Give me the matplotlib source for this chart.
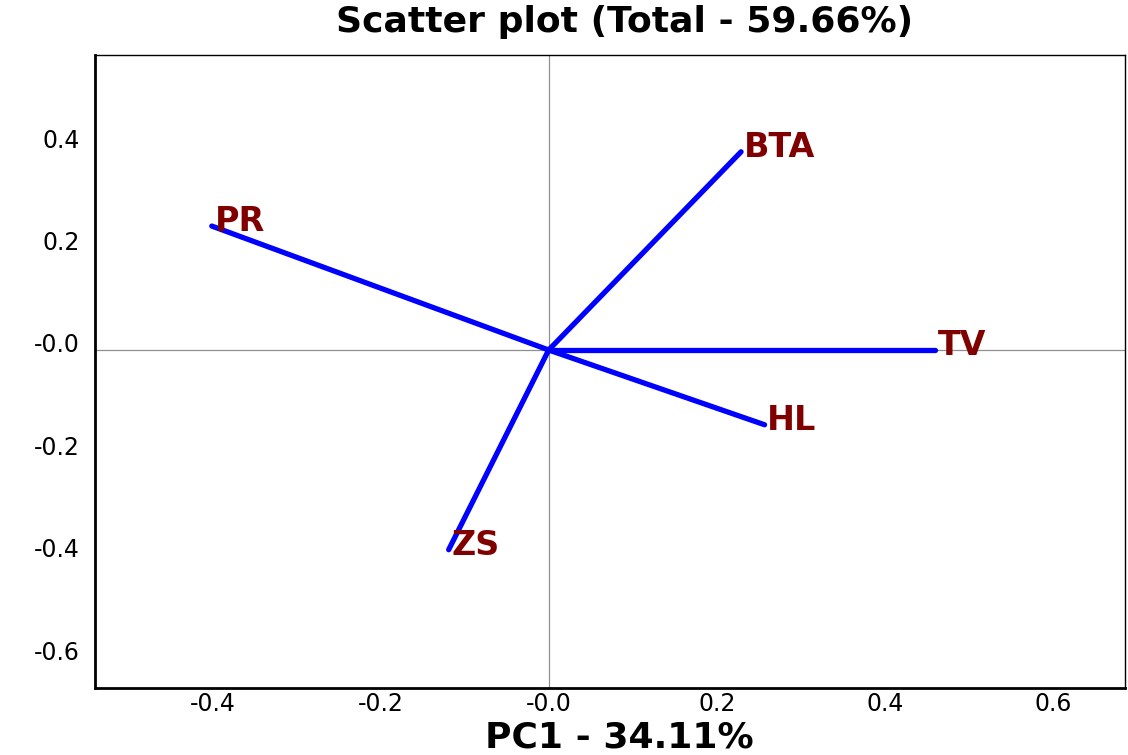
import numpy as np
import matplotlib
matplotlib.use("Agg")
import matplotlib.pyplot as plt
from matplotlib.transforms import ScaledTranslation

# loadings
variables = ["PR", "BTA", "TV", "HL", "ZS"]
pc1 = [-0.401, 0.229, 0.460, 0.257, -0.119]
pc2 = [0.242, 0.387, 0.000, -0.146, -0.390]

xticks = [-0.4, -0.2, 0.0, 0.2, 0.4, 0.6]
xtick_labels = ["-0.4", "-0.2", "-0.0", "0.2", "0.4", "0.6"]
yticks = [0.4, 0.2, 0.0, -0.2, -0.4, -0.6]
ytick_labels = ["0.4", "0.2", "-0.0", "-0.2", "-0.4", "-0.6"]

plt.rcParams["font.family"] = ["DejaVu Sans"]

fig = plt.figure(figsize=(11.28, 7.55), dpi=100)
ax = fig.add_axes([95 / 1128, 1 - 688 / 755, (1125 - 95) / 1128, (688 - 55) / 755])

ax.set_xlim(-0.540, 0.686)
ax.set_ylim(-0.660, 0.576)

# zero lines
ax.axhline(0, color="#909090", lw=0.9, zorder=1)
ax.axvline(0, color="#909090", lw=0.9, zorder=1)

# vectors from the origin
for name, x, y in zip(variables, pc1, pc2):
    ax.plot([0, x], [0, y], color="#0000ff", lw=3.8, solid_capstyle="round", zorder=2)
    ax.annotate(name, (x, y), xytext=(2, 3), textcoords="offset points",
                color="#800000", fontsize=24, fontweight="bold",
                ha="left", va="center", zorder=3)

ax.set_xticks(xticks)
ax.set_xticklabels(xtick_labels, fontsize=17)
ax.set_yticks(yticks)
ax.set_yticklabels(ytick_labels, fontsize=17)
ax.tick_params(length=0)
ax.tick_params(axis="x", pad=3)
ax.tick_params(axis="y", pad=11)
# y labels sit a bit above their grid position in the original
for lab in ax.get_yticklabels():
    lab.set_transform(lab.get_transform() + ScaledTranslation(0, 0.07, fig.dpi_scale_trans))

for side in ["left", "bottom"]:
    ax.spines[side].set_linewidth(2)
for side in ["top", "right"]:
    ax.spines[side].set_linewidth(1)

fig.text(625 / 1128, 1 - 22 / 755, "Scatter plot (Total - 59.66%)", fontsize=26,
         fontweight="bold", ha="center", va="center")
fig.text(619 / 1128, 1 - 737 / 755, "PC1 - 34.11%", fontsize=26,
         fontweight="bold", ha="center", va="center")

fig.savefig("out.png", dpi=100)
